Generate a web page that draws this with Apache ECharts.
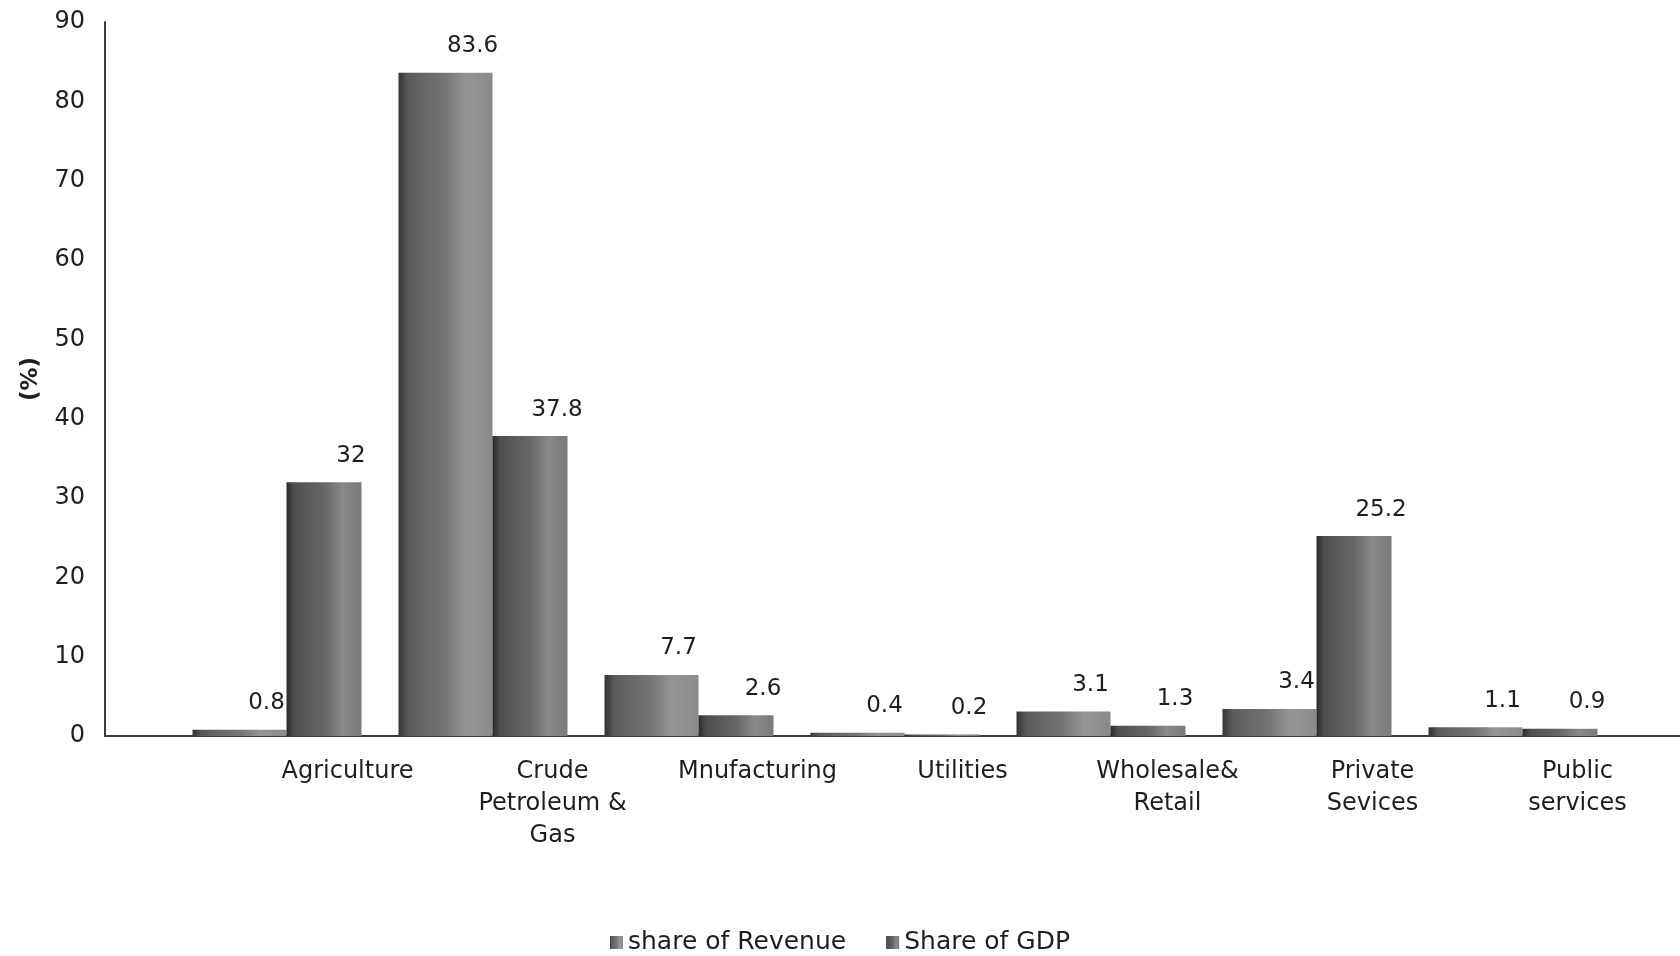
<!DOCTYPE html>
<html>
<head>
<meta charset="utf-8">
<title>Sector shares of revenue and GDP</title>
<script src="https://cdn.jsdelivr.net/npm/echarts@6/dist/echarts.min.js"></script>
<style>
  html, body { margin: 0; padding: 0; background: #ffffff; }
  #chart { width: 1680px; height: 956px; }
</style>
</head>
<body>
<div id="chart"></div>
<script>
// Sectors and their shares (%)
const categories = [
  'Agriculture',
  'Crude\nPetroleum &\nGas',
  'Mnufacturing',
  'Utilities',
  'Wholesale&\nRetail',
  'Private\nSevices',
  'Public\nservices'
];
const shareOfRevenue = [0.8, 83.6, 7.7, 0.4, 3.1, 3.4, 1.1];
const shareOfGDP = [32, 37.8, 2.6, 0.2, 1.3, 25.2, 0.9];
const yTicks = { min: 0, max: 90, interval: 10 };

const FONT = 'DejaVu Sans';
const TEXT = '#1e1e1e';

const chart = echarts.init(document.getElementById('chart'), null, { renderer: 'canvas' });

function shade(stops) {
  return new echarts.graphic.LinearGradient(0, 0, 1, 0,
    stops.map(([o, c]) => ({ offset: o, color: c })));
}

const valueLabel = {
  show: true,
  position: 'top',
  distance: 5,
  offset: [27, -10],
  color: TEXT,
  fontFamily: FONT,
  fontSize: 23
};

const plotTop = 22, plotH = 714;

chart.setOption({
  backgroundColor: '#ffffff',
  animation: false,
  textStyle: { fontFamily: FONT },
  legend: {
    data: ['share of Revenue', 'Share of GDP'],
    left: 'center',
    top: 925,
    itemWidth: 13,
    itemHeight: 13,
    itemGap: 40,
    icon: 'rect',
    textStyle: { color: TEXT, fontFamily: FONT, fontSize: 25 }
  },
  grid: [
    // frame: y axis and baseline
    { left: 105, right: 0, top: plotTop, height: plotH },
    // bars
    { left: 174, right: 64, top: plotTop, height: plotH },
    // category labels
    { left: 245, right: -7, top: plotTop, height: plotH }
  ],
  xAxis: [
    {
      gridIndex: 0, type: 'value', min: 0, max: 1,
      axisLine: { show: true, lineStyle: { color: '#3a3a3a', width: 2 } },
      axisTick: { show: false }, axisLabel: { show: false }, splitLine: { show: false }
    },
    {
      gridIndex: 1, type: 'category', data: categories,
      axisLine: { show: false }, axisTick: { show: false }, axisLabel: { show: false }
    },
    {
      gridIndex: 2, type: 'category', data: categories,
      axisLine: { show: false }, axisTick: { show: false },
      axisLabel: {
        interval: 0, margin: 20, color: TEXT, fontFamily: FONT,
        fontSize: 24, lineHeight: 32, align: 'center'
      }
    }
  ],
  yAxis: [
    {
      gridIndex: 0, type: 'value', min: yTicks.min, max: yTicks.max, interval: yTicks.interval,
      name: '(%)', nameLocation: 'middle', nameGap: 62, nameRotate: 90,
      nameTextStyle: { color: TEXT, fontFamily: FONT, fontSize: 23, fontWeight: 'bold' },
      axisLine: { show: true, lineStyle: { color: '#3a3a3a', width: 2 } },
      axisTick: { show: false },
      axisLabel: { margin: 20, color: TEXT, fontFamily: FONT, fontSize: 24 },
      splitLine: { show: false }
    },
    {
      gridIndex: 1, type: 'value', min: yTicks.min, max: yTicks.max,
      axisLine: { show: false }, axisTick: { show: false }, axisLabel: { show: false },
      splitLine: { show: false }
    },
    {
      gridIndex: 2, type: 'value', min: yTicks.min, max: yTicks.max, show: false
    }
  ],
  series: [
    {
      name: 'share of Revenue',
      type: 'bar',
      xAxisIndex: 1, yAxisIndex: 1,
      data: shareOfRevenue,
      barWidth: 94,
      barGap: '0%',
      itemStyle: {
        color: shade([[0, '#333333'], [0.1, '#5a5a5a'], [0.5, '#767676'], [0.72, '#959595'], [1, '#8a8a8a']])
      },
      label: valueLabel
    },
    {
      name: 'Share of GDP',
      type: 'bar',
      xAxisIndex: 1, yAxisIndex: 1,
      data: shareOfGDP,
      barWidth: 75,
      itemStyle: {
        color: shade([[0, '#2a2a2a'], [0.1, '#4e4e4e'], [0.5, '#676767'], [0.75, '#898989'], [1, '#7a7a7a']])
      },
      label: valueLabel
    }
  ]
});
</script>
</body>
</html>
